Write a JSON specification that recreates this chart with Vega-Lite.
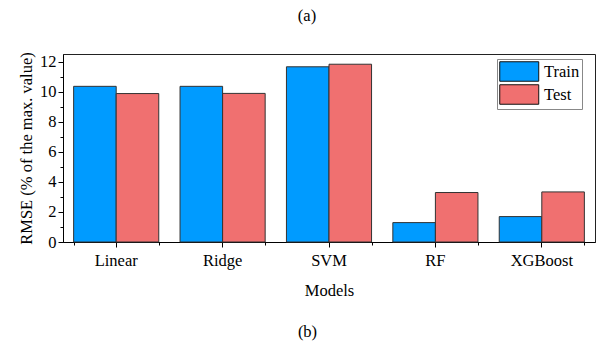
{
  "$schema": "https://vega.github.io/schema/vega-lite/v6.json",
  "width": 532,
  "height": 188,
  "autosize": {"type": "none"},
  "padding": {"left": 63, "top": 54, "right": 8, "bottom": 101},
  "config": {
    "font": "Liberation Serif",
    "view": {"stroke": "#222", "strokeWidth": 1},
    "axis": {
      "labelFont": "Liberation Serif",
      "titleFont": "Liberation Serif",
      "labelFontSize": 16.5,
      "titleFontSize": 16.5,
      "labelColor": "#000",
      "titleColor": "#000",
      "titleFontWeight": "normal",
      "domainColor": "#000",
      "tickColor": "#000",
      "grid": false
    }
  },
  "title": {"text": "(a)", "fontSize": 16.5, "font": "Liberation Serif", "fontWeight": "normal", "anchor": "middle", "frame": "group", "baseline": "bottom", "dx": -22, "offset": 11, "color": "#000"},
  "data": {
    "values": [
      {"model": "Linear", "set": "Train", "rmse": 10.35},
      {"model": "Linear", "set": "Test", "rmse": 9.87},
      {"model": "Ridge", "set": "Train", "rmse": 10.35},
      {"model": "Ridge", "set": "Test", "rmse": 9.88},
      {"model": "SVM", "set": "Train", "rmse": 11.65},
      {"model": "SVM", "set": "Test", "rmse": 11.82},
      {"model": "RF", "set": "Train", "rmse": 1.29},
      {"model": "RF", "set": "Test", "rmse": 3.29},
      {"model": "XGBoost", "set": "Train", "rmse": 1.69},
      {"model": "XGBoost", "set": "Test", "rmse": 3.33}
    ]
  },
  "layer": [
    {
      "mark": {"type": "bar", "stroke": "#333", "strokeWidth": 1},
      "encoding": {
        "x": {
          "field": "model", "type": "nominal",
          "sort": ["Linear", "Ridge", "SVM", "RF", "XGBoost"],
          "scale": {"paddingInner": 0.2, "paddingOuter": 0.1},
          "axis": {"title": "Models", "labelAngle": 0, "tickSize": 5, "labelPadding": 5, "titlePadding": 14, "domainWidth": 1}
        },
        "xOffset": {"field": "set", "type": "nominal", "sort": ["Train", "Test"]},
        "y": {
          "field": "rmse", "type": "quantitative",
          "scale": {"domain": [0, 12.5], "nice": false},
          "axis": {
            "title": "RMSE (% of the max. value)",
            "values": [0, 1, 2, 3, 4, 5, 6, 7, 8, 9, 10, 11, 12],
            "labelOverlap": false,
            "labelExpr": "datum.value % 2 == 0 ? datum.label : ''",
            "tickSize": {"condition": {"test": "datum.value % 2 == 0", "value": 5}, "value": 3},
            "labelPadding": 2,
            "titlePadding": 5
          }
        },
        "fill": {
          "field": "set", "type": "nominal",
          "scale": {"domain": ["Train", "Test"], "range": ["#009BFF", "#F07070"]},
          "legend": {
            "orient": "none", "legendX": 434, "legendY": 5, "title": null,
            "fillColor": "#fff", "strokeColor": "#888", "padding": 2,
            "symbolType": "M-1,-1H3V1H-1Z", "symbolSize": 380,
            "symbolStrokeColor": "#111", "symbolStrokeWidth": 1, "symbolOpacity": 1,
            "labelFont": "Liberation Serif", "labelFontSize": 16.5, "labelColor": "#000",
            "rowPadding": -2, "labelOffset": 24
          }
        }
      }
    },
    {
      "mark": {"type": "bar", "opacity": 0},
      "encoding": {
        "x": {
          "field": "model", "type": "nominal",
          "sort": ["Linear", "Ridge", "SVM", "RF", "XGBoost"],
          "scale": {"paddingInner": 0.2, "paddingOuter": 0.1},
          "axis": {"orient": "bottom", "tickBand": "extent", "labels": false, "domain": false, "tickSize": 3, "title": "(b)", "titleX": 244, "titleY": 81}
        }
      }
    }
  ],
  "resolve": {"scale": {"x": "independent"}}
}
